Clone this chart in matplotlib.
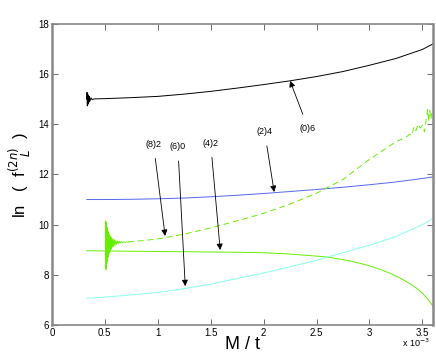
import matplotlib
matplotlib.use("Agg")
import matplotlib.pyplot as plt

plt.rcParams['font.family'] = ['Liberation Sans', 'DejaVu Sans']

# x grid (M / t, in units of 1e-3) for the smooth curves
mt = [0.33, 0.5, 0.75, 1.0, 1.25, 1.5, 1.75, 2.0, 2.25, 2.5, 2.75, 3.0, 3.25, 3.5, 3.6]

# (0)6, black, with the little ringing at its start
mt_06 = [0.33, 0.332, 0.335, 0.338, 0.342, 0.346, 0.35, 0.355, 0.36, 0.37, 0.38, 0.4] + mt[1:]
f_06 = [15.0, 15.27, 14.73, 15.22, 14.8, 15.15, 14.88, 15.1, 14.93, 15.05, 14.98, 15.01,
        15.02, 15.06, 15.11, 15.2, 15.31, 15.44, 15.58, 15.73, 15.9, 16.1, 16.35, 16.62, 16.98, 17.2]

# (2)4, blue
f_24 = [11.0, 11.0, 11.01, 11.03, 11.06, 11.11, 11.17, 11.24, 11.32, 11.4, 11.49, 11.59, 11.7, 11.84, 11.9]

# (4)2, green solid (denser towards the bend)
mt_42 = [0.33, 0.75, 1.25, 1.75, 2.0, 2.2, 2.4, 2.6, 2.8, 2.9, 3.0, 3.1, 3.2, 3.3,
         3.4, 3.45, 3.5, 3.55, 3.6]
f_42 = [8.96, 8.94, 8.92, 8.9, 8.88, 8.84, 8.78, 8.71, 8.57, 8.47, 8.36, 8.22, 8.05, 7.85,
        7.6, 7.45, 7.27, 7.04, 6.76]

# (6)0, cyan
f_60 = [7.07, 7.11, 7.2, 7.3, 7.45, 7.63, 7.85, 8.07, 8.32, 8.58, 8.88, 9.18, 9.52, 10.0, 10.24]

# (8)2, green: ringing burst then dashed curve with noisy end
burst_x = [0.505, 0.508, 0.511, 0.513, 0.515, 0.517, 0.519, 0.521, 0.523, 0.525, 0.527,
           0.529, 0.531, 0.534, 0.537, 0.540, 0.543, 0.546, 0.549, 0.553, 0.557, 0.561,
           0.565, 0.570, 0.575, 0.580, 0.586, 0.592, 0.598, 0.605, 0.612, 0.620, 0.628,
           0.637, 0.646, 0.656, 0.666, 0.678, 0.690, 0.705, 0.72]
burst_y = [9.1, 10.15, 8.2, 10.1, 8.3, 10.0, 8.45, 9.9, 8.55, 9.8, 8.65, 9.75, 8.72, 9.7,
           8.8, 9.62, 8.88, 9.57, 8.94, 9.52, 9.0, 9.48, 9.05, 9.45, 9.1, 9.42, 9.14, 9.4,
           9.18, 9.37, 9.21, 9.35, 9.24, 9.34, 9.26, 9.33, 9.28, 9.32, 9.29, 9.31, 9.31]
mt_82 = [0.72, 0.85, 1.0, 1.25, 1.5, 1.75, 2.0, 2.25, 2.5, 2.75, 3.0, 3.25, 3.35,
         3.38, 3.40, 3.42, 3.44, 3.46, 3.48, 3.50, 3.52, 3.54, 3.55, 3.56, 3.57, 3.58, 3.59, 3.6]
f_82 = [9.31, 9.36, 9.43, 9.62, 9.87, 10.15, 10.45, 10.82, 11.25, 11.8, 12.6, 13.3, 13.5,
        13.6, 13.55, 13.9, 13.75, 14.0, 13.85, 13.95, 13.7, 14.3, 14.6, 14.1, 14.55, 14.2, 14.45, 14.3]

# annotations: label, text position, arrow tip
labels = ['(0)6', '(2)4', '(8)2', '(6)0', '(4)2']
text_xy = [(2.42, 13.85), (2.01, 13.7), (0.96, 13.2), (1.19, 13.1), (1.5, 13.25)]
tip_xy = [(2.25, 15.73), (2.10, 11.3), (1.07, 9.55), (1.26, 7.55), (1.59, 8.99)]

fig = plt.figure(figsize=(4.36, 3.56), dpi=100)
ax = fig.add_axes([0.119, 0.087, 0.874, 0.846])

green = '#66ee00'
ax.plot(mt_06, f_06, color='black', lw=0.7)
ax.plot(mt, f_24, color='#5566ee', lw=0.7)
ax.plot(mt_42, f_42, color=green, lw=0.7)
ax.plot(mt, f_60, color='#88ffee', lw=0.7)
ax.plot(burst_x, burst_y, color=green, lw=0.6)
ax.plot(mt_82, f_82, color=green, lw=0.7, dashes=(6, 4))

for lab, txy, pxy in zip(labels, text_xy, tip_xy):
    ax.annotate(lab, xy=pxy, xytext=txy, fontsize=6.5, ha='center', va='center',
                arrowprops=dict(arrowstyle='-|>', color='black', lw=0.6,
                                mutation_scale=9, shrinkA=5, shrinkB=0))

ax.set_xlim(0, 3.6)
ax.set_ylim(6, 18)
ax.set_xticks([0, 0.5, 1, 1.5, 2, 2.5, 3, 3.5])
ax.set_xticklabels(['0', '0.5', '1', '1.5', '2', '2.5', '3', '3.5'])
ax.set_yticks([6, 8, 10, 12, 14, 16, 18])
ax.tick_params(direction='in', top=True, right=True, length=4, width=0.6,
               labelsize=7, color='#555555', pad=2)

for side in ['left', 'right', 'top', 'bottom']:
    ax.spines[side].set_color('#888888')
    ax.spines[side].set_linewidth(1.2)
ax.spines['left'].set_linewidth(1.8)
ax.spines['right'].set_linewidth(1.8)

ax.set_xlabel('M / t', fontsize=13)
ax.xaxis.set_label_coords(0.5, -0.035)
ax.set_ylabel(r'ln   (  f$^{(2n)}_{\quad\ L}$  )', fontsize=12)
ax.yaxis.set_label_coords(-0.05, 0.5)
fig.text(0.985, 0.02, r'x 10$^{-3}$', ha='right', va='bottom', fontsize=6.5)

fig.savefig('out.png', dpi=100, facecolor='white')
